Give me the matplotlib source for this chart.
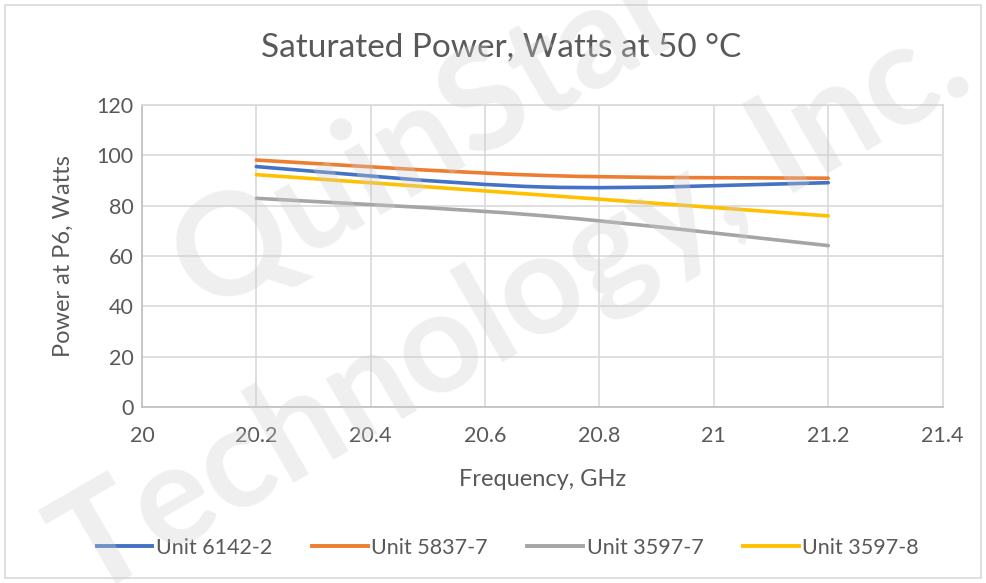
import matplotlib
matplotlib.use("Agg")
import matplotlib.pyplot as plt
from matplotlib.path import Path
from matplotlib.patches import PathPatch, Rectangle
from matplotlib.lines import Line2D

plt.rcParams['font.family'] = ['Lato', 'DejaVu Sans']

# data
freq = [20.2, 20.7, 21.2]
units = ["Unit 6142-2", "Unit 5837-7", "Unit 3597-7", "Unit 3597-8"]
unit_6142_2 = [95.5, 87.4, 89.1]
unit_5837_7 = [98.1, 92.0, 90.9]
unit_3597_7 = [82.9, 76.0, 64.1]
unit_3597_8 = [92.3, 84.2, 75.9]
series = [unit_6142_2, unit_5837_7, unit_3597_7, unit_3597_8]
colors = ["#4472c4", "#ed7d31", "#a5a5a5", "#ffc000"]

x_ticks = [20, 20.2, 20.4, 20.6, 20.8, 21, 21.2, 21.4]
y_ticks = [0, 20, 40, 60, 80, 100, 120]
txt = "#595959"


def smooth_path(xs, ys):
    # excel style smoothed line: cubic bezier through each point
    pts = list(zip(xs, ys))
    n = len(pts)
    verts = [pts[0]]
    codes = [Path.MOVETO]
    for i in range(n - 1):
        p0 = pts[i - 1] if i > 0 else pts[i]
        p1 = pts[i]
        p2 = pts[i + 1]
        p3 = pts[i + 2] if i + 2 < n else pts[i + 1]
        c1 = (p1[0] + (p2[0] - p0[0]) / 6, p1[1] + (p2[1] - p0[1]) / 6)
        c2 = (p2[0] - (p3[0] - p1[0]) / 6, p2[1] - (p3[1] - p1[1]) / 6)
        verts += [c1, c2, p2]
        codes += [Path.CURVE4] * 3
    return Path(verts, codes)


fig = plt.figure(figsize=(9.86, 5.83), dpi=100)
ax = fig.add_axes([0.144, 0.302, 0.812, 0.518])

for vals, c in zip(series, colors):
    ax.add_patch(PathPatch(smooth_path(freq, vals), facecolor="none",
                           edgecolor=c, lw=2.6, capstyle="round", zorder=3))

ax.set_xlim(20, 21.4)
ax.set_ylim(0, 120)
ax.set_xticks(x_ticks)
ax.set_xticklabels([f"{v:g}" for v in x_ticks])
ax.set_yticks(y_ticks)
ax.grid(True, color="#d9d9d9", lw=1.2)
ax.set_axisbelow(True)
ax.tick_params(length=0, labelsize=15.5, colors=txt)
ax.tick_params(axis="y", pad=6)
ax.tick_params(axis="x", pad=14)
for s in ax.spines.values():
    s.set_color("#d9d9d9")
    s.set_linewidth(1.2)
ax.spines["left"].set_color("#bfbfbf")
ax.spines["bottom"].set_color("#bfbfbf")

ax.set_xlabel("Frequency, GHz", fontsize=17, color=txt, labelpad=16)
ax.set_ylabel("Power at P6, Watts", fontsize=17, color=txt, labelpad=16)
fig.text(0.508, 0.918, "Saturated Power, Watts at 50 °C", fontsize=24,
         color=txt, ha="center", va="center")

handles = [Line2D([], [], color=c, lw=2.8) for c in colors]
fig.legend(handles, units, loc="center", bbox_to_anchor=(0.515, 0.06),
           ncol=4, frameon=False, fontsize=15.5, labelcolor=txt,
           handlelength=2.6, handletextpad=0.15, columnspacing=1.85)

# outer chart border
fig.patches.append(Rectangle((0.005, 0.008), 0.99, 0.983, transform=fig.transFigure,
                             fill=False, edgecolor="#d9d9d9", lw=1.2))

# watermark
wm = dict(fontsize=102, fontweight="bold", color="#cfcfcf", alpha=0.33,
          rotation=30, ha="center", va="center", zorder=10)
fig.text(0.435, 0.765, "QuinStar", **wm)
fig.text(0.52, 0.47, "Technology, Inc.", **wm)

fig.savefig("out.png", dpi=100)
